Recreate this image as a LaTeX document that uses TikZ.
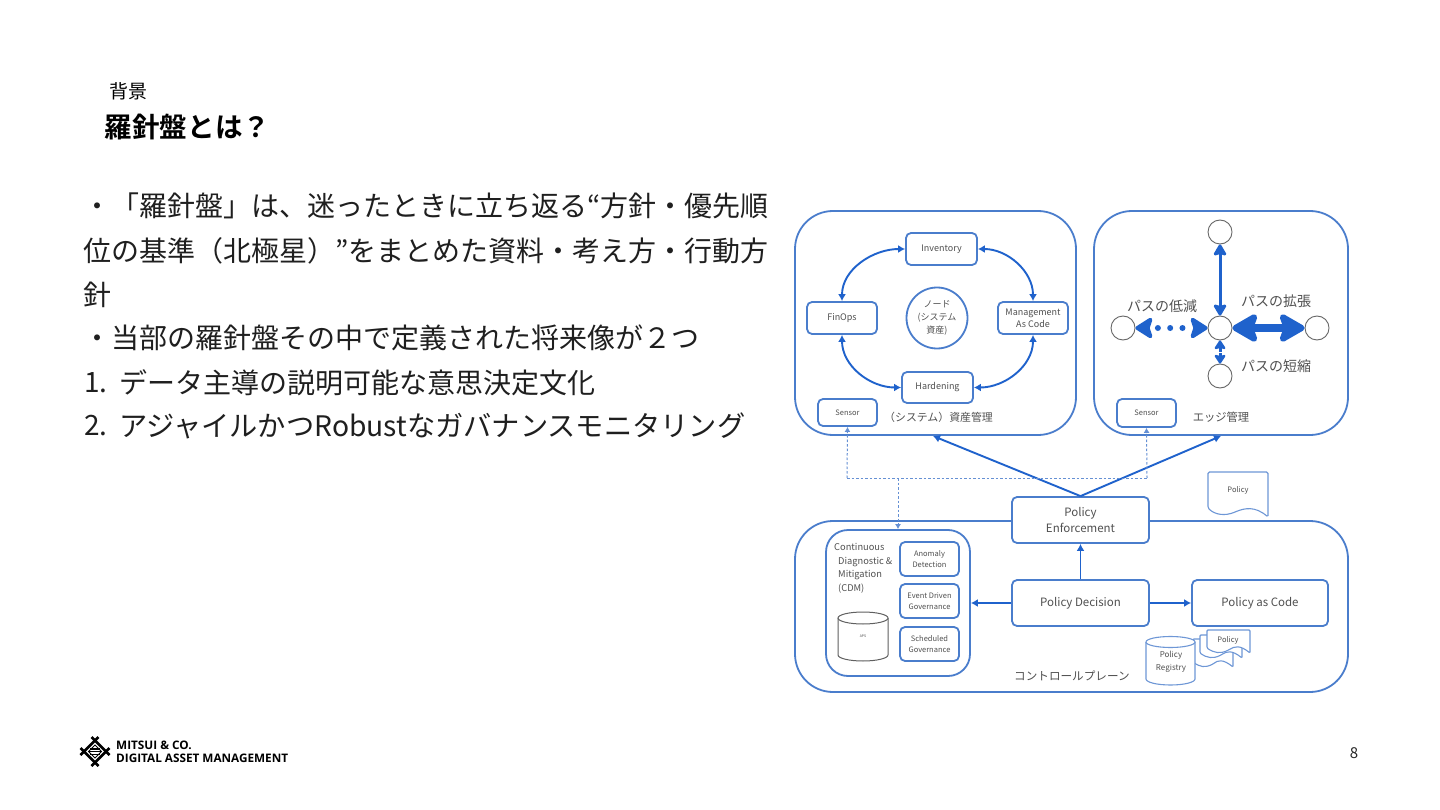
\documentclass[tikz,border=0pt]{standalone}
\usepackage{fontspec}
\setmainfont{Noto Sans CJK JP}[BoldFont={Noto Sans CJK JP Bold}]
\newfontfamily\latinf{Open Sans}[BoldFont={Open Sans Bold}]
\usetikzlibrary{arrows.meta,shapes.geometric}
\definecolor{boxblue}{HTML}{4A7DCC}
\definecolor{arrblue}{HTML}{1F62CC}
\definecolor{lab}{HTML}{505050}
\tikzset{
  x=1pt,y=-1pt,
  area/.style={draw=boxblue,line width=1.8pt,rounded corners=38pt,fill=white},
  card/.style={draw=boxblue,line width=1.8pt,rounded corners=5pt,fill=white,inner sep=0pt,align=center,text=lab,font=\fontsize{9}{12}\selectfont},
  big/.style={card,font=\fontsize{11.5}{16}\selectfont},
  small/.style={card,font=\fontsize{7.5}{11}\selectfont},
  link/.style={draw=arrblue,line width=1.9pt,{Latex[length=7pt,width=8pt]}-{Latex[length=7pt,width=8pt]}},
  one/.style={draw=arrblue,line width=1.9pt,-{Latex[length=7pt,width=8pt]}},
  dashline/.style={draw=boxblue!85,line width=1pt,dash pattern=on 2.5pt off 2pt},
  dot/.style={circle,draw=gray!80!black,line width=0.9pt,fill=white,minimum size=24pt,inner sep=0pt},
  lbl/.style={text=lab,inner sep=0pt,font=\fontsize{14}{16}\selectfont},
  lblsm/.style={text=lab,inner sep=0pt,font=\fontsize{11.3}{14}\selectfont},
  txt/.style={anchor=west,inner sep=0pt,text=black!88,font=\fontsize{28}{32}\selectfont},
  doc/.style={draw=boxblue!80,line width=1.1pt,fill=white},
  tinylab/.style={text=lab,inner sep=0pt,align=center,font=\fontsize{7.5}{12}\selectfont},
}
\def\cardat#1#2#3#4#5#6#7{\node[#1,minimum width=#4-#2,minimum height=#5-#3] (#6) at ({(#2+#4)/2},{(#3+#5)/2}) {#7};}
\begin{document}
\begin{tikzpicture}
\useasboundingbox (0,0) rectangle (1440,810);
\fill[white] (0,0) rectangle (1440,810);
% titles
\node[anchor=west,inner sep=0pt,font=\fontsize{19}{22}\selectfont] (sec) at (109,91) {背景};
\node[anchor=west,inner sep=0pt,font=\fontsize{27.6}{30}\selectfont\bfseries] (ttl) at (104.5,127.5) {羅針盤とは？};
\node[txt] (l1) at (83,206) {・「羅針盤」は、迷ったときに立ち返る“方針・優先順};
\node[txt] (l2) at (83,251) {位の基準（北極星）”をまとめた資料・考え方・行動方};
\node[txt] (l3) at (83,295) {針};
\node[txt] (l4) at (83,338) {・当部の羅針盤その中で定義された将来像が２つ};
\node[txt] (l5n) at (84,382.5) {1.};
\node[txt] (l5) at (119,382.5) {データ主導の説明可能な意思決定文化};
\node[txt] (l6n) at (84,425.5) {2.};
\node[txt,font=\fontsize{28.25}{32}\selectfont] (l6) at (119,425.5) {アジャイルかつRobustなガバナンスモニタリング};
% areas
\cardat{area}{795}{211}{1076}{435}{asset}{}
\cardat{area}{1094}{211}{1348}{435}{edge}{}
\cardat{area}{795}{521}{1348}{692}{ctrl}{}
% asset
\cardat{card}{906}{233}{977}{265}{inv}{Inventory}
\cardat{card}{807}{302}{877}{334}{fin}{FinOps}
\cardat{card}{998}{302}{1068}{334}{mac}{Management\\As Code}
\cardat{card}{902}{372}{973}{403}{hard}{Hardening}
\node[circle,draw=boxblue,line width=1.8pt,minimum size=61pt,inner sep=0pt,align=center,text=lab,font=\fontsize{9}{13}\selectfont] (nd) at (937,318) {ノード\\(システム\\資産)};
\cardat{small}{818}{399}{877}{426}{s1}{Sensor}
\node[lblsm,anchor=west,font=\fontsize{10.9}{14}\selectfont] (alab) at (884,417) {（システム）資産管理};
\draw[link] (inv.west) to[out=180,in=90,looseness=1] (fin.north);
\draw[link] (inv.east) to[out=0,in=90,looseness=1] (mac.north);
\draw[link] (hard.west) to[out=180,in=-90,looseness=1] (fin.south);
\draw[link] (hard.east) to[out=0,in=-90,looseness=1] (mac.south);
% edge
\node[dot] (ct) at (1220,232) {};
\node[dot] (cl) at (1123,328) {};
\node[dot] (cc) at (1220,328) {};
\node[dot] (cr) at (1317,328) {};
\node[dot] (cb) at (1220,376) {};
\cardat{small}{1117}{399}{1176}{427}{s2}{Sensor}
\node[lbl] (p1) at (1162,306) {パスの低減};
\node[lbl] (p2) at (1276,301) {パスの拡張};
\node[lbl] (p3) at (1276,366) {パスの短縮};
\node[lblsm] (p4) at (1221,417) {エッジ管理};
\draw[draw=arrblue,line width=3pt,{Stealth[length=13pt,width=15pt,inset=2pt,round]}-{Stealth[length=13pt,width=15pt,inset=2pt,round]}] (ct) -- (cc);
\draw[draw=arrblue,line width=8pt,{Stealth[length=30pt,width=34pt,inset=6pt,round]}-{Stealth[length=30pt,width=34pt,inset=6pt,round]}] (cc) -- (cr);
\draw[draw=arrblue,line width=6pt,line cap=round,dash pattern=on 0pt off 12.3pt,dash phase=3pt,{Stealth[length=20pt,width=25pt,inset=4pt,round]}-{Stealth[length=20pt,width=25pt,inset=4pt,round]}] (cl) -- (cc);
\draw[draw=arrblue,line width=3pt,{Stealth[length=10pt,width=13pt,inset=1.5pt,round]}-{Stealth[length=10pt,width=13pt,inset=1.5pt,round]}] (cc) -- (cb);
\fill[white] (1214.5,351.5) rectangle (1225.5,353);
% control
\cardat{big}{1012}{497}{1149}{543}{pe}{Policy\\Enforcement}
\cardat{big}{1012}{580}{1149}{626}{pd}{Policy Decision}
\cardat{big}{1192}{580}{1328}{626}{pc}{Policy as Code}
\node[draw=boxblue,line width=1.8pt,rounded corners=22pt,minimum width=144pt,minimum height=146pt,inner sep=0pt,fill=white] (cdm) at (898,603) {};
\cardat{small}{900}{542}{959}{576}{an}{Anomaly\\Detection}
\cardat{small}{900}{584}{959}{618}{ev}{Event Driven\\Governance}
\cardat{small}{900}{627}{959}{661}{sc}{Scheduled\\Governance}
\node[anchor=north west,inner sep=0pt,align=left,text=lab,font=\fontsize{9.3}{13.7}\selectfont] (cdt) at (834,543) {Continuous\\[0pt]\hspace*{4pt}Diagnostic \&\\[0pt]\hspace*{4pt}Mitigation\\[0pt]\hspace*{4pt}(CDM)};
\node[lblsm,anchor=west,font=\fontsize{11.6}{14}\selectfont] (ctl) at (1014,676) {コントロールプレーン};
\draw[one] (pd.north) -- (pe.south);
\draw[one] (pd.west) -- (cdm.east);
\draw[one] (pd.east) -- (pc.west);
\coordinate (a1) at (933,436);
\coordinate (a2) at (1221,436);
\draw[one] (pe.north) -- (a1);
\draw[one] (pe.north) -- (a2);
\coordinate (d1) at (847,478);
\coordinate (d2) at (1147,478);
\coordinate (d3) at (898,478);
\draw[dashline,-{Latex[length=5pt,width=6pt]}] (d1) -- (s1.south);
\draw[dashline,-{Latex[length=5pt,width=6pt]}] (d2) -- (s2.south);
\draw[dashline] (d1) -- (d2);
\draw[dashline,-{Latex[length=5pt,width=6pt]}] (d3) -- (cdm.north);
% cylinder
\draw[gray!75!black,line width=1pt,fill=white] (838,618) -- (838,655) arc[start angle=180,end angle=360,x radius=25,y radius=-6] -- (888,618);
\draw[gray!75!black,line width=1pt,fill=white] (863,618) ellipse[x radius=25,y radius=6];
\node[text=lab,inner sep=0pt,font=\fontsize{3.5}{4}\selectfont] (ap) at (863,636) {APS};
% policy doc
\draw[doc,rounded corners=1.5pt] (1208,472) -- (1268,472) -- (1268,517)
  .. controls (1255,506) and (1245,508) .. (1235,512) .. controls (1225,516) and (1215,515) .. (1208,508) -- cycle;
\node[tinylab] (pdoc) at (1238,490) {Policy};
% stack: left/top/right/bottom
\foreach \lx/\ty/\rx/\by in {1193/639/1233/667,1200/635/1242/658,1207/630/1250/653}{
  \draw[doc,rounded corners=1pt] (\lx,\ty) -- (\rx,\ty) -- (\rx,\by)
   .. controls (\rx-10,\by-8) and (\rx-15,\by-7) .. ({(\lx+\rx)/2},\by-3) .. controls ({(\lx+\rx)/2-8},\by+1) and (\lx+7,\by) .. (\lx,\by-5) -- cycle;
}
\node[tinylab] (pstk) at (1228,640) {Policy};
\draw[doc] (1146,642) -- (1146,679) arc[start angle=180,end angle=360,x radius=24.5,y radius=-6] -- (1195,642);
\draw[doc] (1170.5,642) ellipse[x radius=24.5,y radius=5.5];
\node[tinylab,font=\fontsize{8}{12.5}\selectfont] (reg) at (1171,662) {Policy\\Registry};
% logo
\node[anchor=west,inner sep=0pt,font=\latinf\bfseries\fontsize{11.75}{12}\selectfont] (lg1) at (116,745) {MITSUI \& CO.};
\node[anchor=west,inner sep=0pt,font=\latinf\bfseries\fontsize{11.75}{12}\selectfont] (lg2) at (116,758) {DIGITAL ASSET MANAGEMENT};
\begin{scope}[shift={(95,751.5)}]
\draw[line width=2.6pt] (-3.5,-14.5) -- (14.5,3.5);
\draw[line width=2.6pt] (3.5,-14.5) -- (-14.5,3.5);
\draw[line width=2.6pt] (-3.5,14.5) -- (14.5,-3.5);
\draw[line width=2.6pt] (3.5,14.5) -- (-14.5,-3.5);
\fill (-5,-3.4) rectangle (5,-2);
\fill (-6,-0.7) rectangle (6,0.7);
\fill (-5,2) rectangle (5,3.4);
\draw[line width=1pt] (0,-6.5) -- (6.5,0) -- (0,6.5) -- (-6.5,0) -- cycle;
\end{scope}
\node[inner sep=0pt,font=\fontsize{15}{18}\selectfont,text=black!85] (pg) at (1354,753) {8};
\end{tikzpicture}
\end{document}
